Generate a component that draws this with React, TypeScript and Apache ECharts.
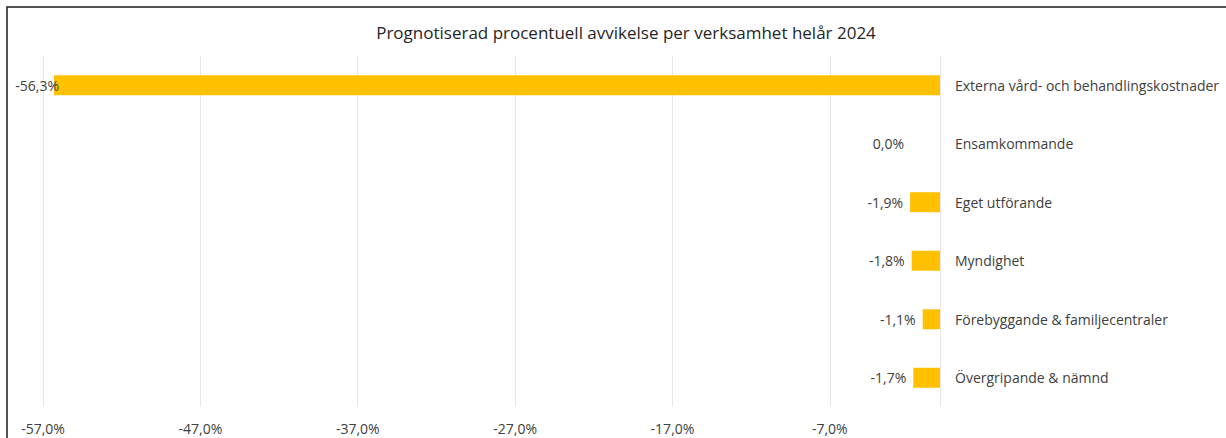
import React, { useEffect, useRef } from "react";
import * as echarts from "echarts";

const categories = [
  "Externa vård- och behandlingskostnader",
  "Ensamkommande",
  "Eget utförande",
  "Myndighet",
  "Förebyggande & familjecentraler",
  "Övergripande & nämnd",
];
const values = [-56.3, 0.0, -1.9, -1.8, -1.1, -1.7];
const titleText = "Prognotiserad procentuell avvikelse per verksamhet helår 2024";
const axisMin = -57;
const axisMax = 0;
const axisStep = 10;

const fmt = (v: number) => v.toFixed(1).replace(".", ",") + "%";
const FONT = "'Open Sans', sans-serif";

export default function App() {
  const ref = useRef<HTMLDivElement>(null);
  useEffect(() => {
    if (!ref.current) return;
    const chart = echarts.init(ref.current, undefined, { renderer: "svg" });
    chart.setOption({
      animation: false,
      backgroundColor: "#ffffff",
      title: {
        text: titleText,
        left: 621,
        textAlign: "center",
        top: 19,
        textStyle: { fontFamily: FONT, fontSize: 17, fontWeight: "normal", color: "#262626" },
      },
      graphic: [
        {
          type: "rect",
          shape: { x: 7, y: 7, width: 1240, height: 450 },
          style: { fill: "none", stroke: "#1a1a1a", lineWidth: 1.5 },
          z: 100,
        },
      ],
      grid: { left: 43, right: 286, top: 56, bottom: 31, containLabel: false },
      xAxis: {
        type: "value",
        min: axisMin,
        max: axisMax,
        interval: axisStep,
        axisLine: { show: false },
        axisTick: { show: false },
        splitLine: { lineStyle: { color: "#e6e6e6", width: 1 } },
        axisLabel: {
          showMaxLabel: false,
          margin: 14,
          fontFamily: FONT,
          fontSize: 14,
          color: "#404040",
          formatter: (v: number) => fmt(v),
        },
      },
      yAxis: {
        type: "category",
        data: categories,
        inverse: true,
        position: "right",
        axisLine: { show: false },
        axisTick: { show: false },
        splitLine: { show: false },
        axisLabel: {
          margin: 15,
          fontFamily: FONT,
          fontSize: 14,
          color: "#404040",
        },
      },
      series: [
        {
          type: "bar",
          data: values.map((v) =>
            v === 0
              ? { value: v, label: { distance: 36 } }
              : v < -50
              ? { value: v, label: { distance: -5 } }
              : { value: v }
          ),
          barWidth: 20,
          itemStyle: { color: "#FFC000" },
          label: {
            show: true,
            position: "left",
            distance: 7,
            fontFamily: FONT,
            fontSize: 14,
            color: "#404040",
            formatter: (p: any) => fmt(p.value),
          },
        },
      ],
    });
    return () => chart.dispose();
  }, []);
  return (
    <div
      ref={ref}
      style={{ position: "fixed", left: 0, top: 0, width: 1226, height: 438 }}
    />
  );
}
